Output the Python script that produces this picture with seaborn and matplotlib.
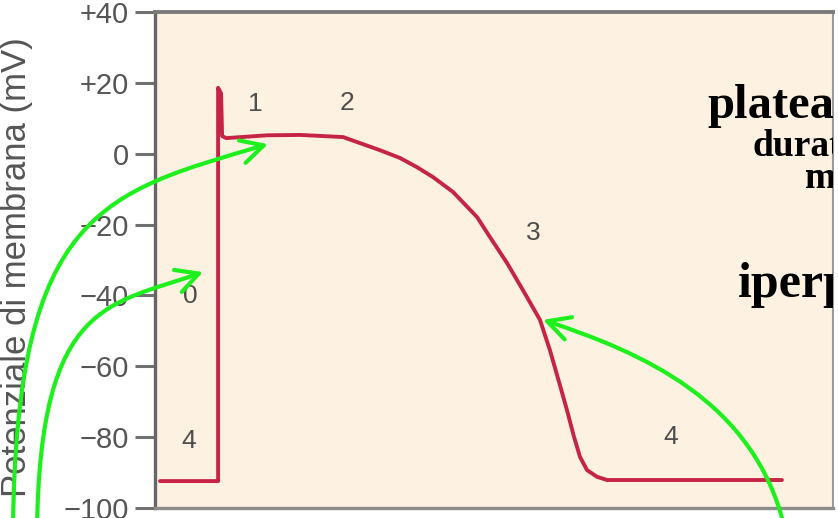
import matplotlib
matplotlib.use('Agg')
import matplotlib.pyplot as plt
import seaborn as sns
import pandas as pd
from matplotlib.path import Path
from matplotlib.patches import FancyArrowPatch

# Action potential trace (time in ms, membrane potential in mV)
t_ms = [2.5, 31.5, 31.5, 33.0, 33.5, 35.5, 56.0, 72.5, 93.9, 102.3, 112.3,
        122.3, 130.8, 138.8, 148.8, 160.8, 167.2, 175.7, 183.7, 192.2, 197.2,
        201.5, 205.5, 209.0, 212.2, 215.7, 220.7, 225.7, 313.0]
v_mV = [-92.4, -92.4, 18.6, 17.0, 5.0, 4.4, 5.2, 5.3, 4.7, 3.0, 1.0,
        -1.2, -3.8, -6.6, -10.8, -17.9, -23.5, -30.8, -38.5, -46.9, -55.5,
        -64.0, -72.0, -79.5, -85.6, -89.3, -91.2, -92.1, -92.1]

# Phase numbers
phase_labels = ['1', '2', '3', '0', '4', '4']
phase_t = [49.9, 95.9, 188.7, 17.5, 17.0, 257.6]
phase_v = [14.0, 14.3, -22.4, -40.2, -81.1, -80.0]

# Y axis ticks
y_ticks = [40, 20, 0, -20, -40, -60, -80, -100]
y_tick_labels = ['+40', '+20', '0', '\u221220', '\u221240', '\u221260', '\u221280', '\u2212100']

# Side notes (clipped at the right edge)
note_texts = ['plateau', 'durata', 'media', 'iperpolarizzazione']
note_t = [276.0, 298.1, 324.5, 291.1]
note_v = [10.1, -0.6, -9.7, -40.4]
note_sizes = [35, 27, 27, 36]

# Green annotation arrows (cubic curves: start, ctrl1, ctrl2, tip)
arrow_curves = [
    [(-70.9, -106.0), (-69.4, -15.9), (-25.0, -10.8), (56.4, 2.7)],
    [(-58.9, -106.0), (-57.4, -41.3), (-22.5, -42.7), (24.0, -33.4)],
    [(314.5, -106.0), (299.6, -69.5), (242.1, -56.0), (193.7, -46.9)],
]

sns.set_theme(style='white')
plt.rcParams['font.family'] = ['Liberation Sans', 'DejaVu Sans']

fig = plt.figure(figsize=(8.38, 5.18), dpi=100)
ax = fig.add_axes([155 / 838, 10 / 518, 678 / 838, 496 / 518])
ax.set_facecolor('#FDF2E2')

trace = pd.DataFrame({'t': t_ms, 'v': v_mV})
sns.lineplot(data=trace, x='t', y='v', sort=False, estimator=None,
             color='#C62444', lw=2.8, ax=ax)

for lab, t, v in zip(phase_labels, phase_t, phase_v):
    ax.text(t, v, lab, ha='center', va='center', fontsize=19, color='#4d4d4d')

for txt, t, v, s in zip(note_texts, note_t, note_v, note_sizes):
    ax.text(t, v, txt, ha='left', va='baseline', fontsize=s, fontweight='bold',
            family='Liberation Serif', color='black', clip_on=True)

for pts in arrow_curves:
    path = Path(pts, [Path.MOVETO, Path.CURVE4, Path.CURVE4, Path.CURVE4])
    arr = FancyArrowPatch(path=path, arrowstyle='->,head_length=0.8,head_width=0.42',
                          mutation_scale=20, lw=3, color='#1EF01E',
                          transform=ax.transData, clip_on=False, zorder=6)
    ax.add_patch(arr)

ax.set_xlim(0, 338.5)
ax.set_ylim(-100, 40)
ax.set_xticks([])
ax.set_yticks(y_ticks)
ax.set_yticklabels(y_tick_labels)
ax.tick_params(axis='y', left=True, length=14.5, width=2.2, color='#707070',
               pad=4.5, labelsize=21, labelcolor='#555555')
ax.set_xlabel('')
ax.set_ylabel('Potenziale di membrana (mV)', fontsize=25, color='#555555')
ax.yaxis.set_label_coords(-0.18, 0.486)

ax.spines['left'].set_color('#666666')
ax.spines['left'].set_linewidth(2.4)
ax.spines['top'].set_color('#7a7a7a')
ax.spines['top'].set_linewidth(2.8)
ax.spines['bottom'].set_color('#8c8c8c')
ax.spines['bottom'].set_linewidth(2.4)
ax.spines['right'].set_color('#9a9a9a')
ax.spines['right'].set_linewidth(1.5)

fig.savefig('out.png', dpi=100, facecolor='white')
